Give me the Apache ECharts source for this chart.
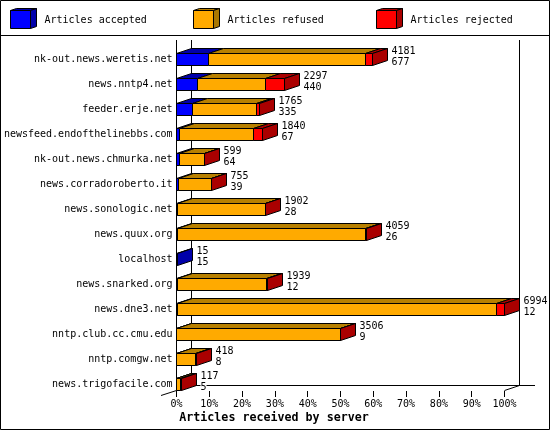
<!DOCTYPE html>
<html><head><meta charset="utf-8">
<style>html,body{margin:0;padding:0;background:#fff}#c{width:550px;height:430px}</style>
<script src="https://cdn.jsdelivr.net/npm/echarts@6/dist/echarts.min.js"></script>
</head><body><div id="c"></div>
<script>
const servers = ['nk-out.news.weretis.net','news.nntp4.net','feeder.erje.net','newsfeed.endofthelinebbs.com','nk-out.news.chmurka.net','news.corradoroberto.it','news.sonologic.net','news.quux.org','localhost','news.snarked.org','news.dne3.net','nntp.club.cc.cmu.edu','nntp.comgw.net','news.trigofacile.com'];
const totals   = [4181,2297,1765,1840,599,755,1902,4059,15,1939,6994,3506,418,117];
const accepted = [677,440,335,67,64,39,28,26,15,12,12,9,8,5];
const refused  = [3346,1452,1366,1568,530,700,1860,4010,0,1915,6805,3480,405,87];
const rejected = [158,405,64,205,5,16,14,23,0,12,177,17,5,25];
const legendNames = ['Articles accepted','Articles refused','Articles rejected'];
const axisTitle = 'Articles received by server';
const FACE = ['#0000ff','#ffaa00','#ff0000'];
const TOP  = ['#0000aa','#b88000','#aa0000'];
const SIDE = ['#0000aa','#aa7700','#aa0000'];
const INK = '#000';
const FONT = '10px "DejaVu Sans Mono", monospace';
const DX = 15, DY = -5, HALF = 6;
const maxTotal = Math.max(...totals);
const snap = v => Math.floor(v) + 0.5;
const pct = v => v / maxTotal * 100;

function renderRow(params, api) {
  const i = api.value(0);
  const yc = api.coord([0, i])[1];
  const yT = snap(yc - HALF), yB = yT + 2 * HALF;
  const parts = [accepted[i], refused[i], rejected[i]];
  const children = [];
  let sum = 0, xPrev = snap(api.coord([0, i])[0]), last = 0;
  const poly = (pts, fill) => children.push({type:'polygon', shape:{points:pts}, style:{fill, stroke:INK, lineWidth:1}});
  const fronts = [];
  parts.forEach((p, k) => {
    if (p <= 0) return;
    sum += p;
    const x = snap(api.coord([pct(sum), i])[0]);
    poly([[xPrev,yT],[xPrev+DX,yT+DY],[x+DX,yT+DY],[x,yT]], TOP[k]);
    fronts.push([[xPrev,yT],[x,yT],[x,yB],[xPrev,yB]], FACE[k]);
    xPrev = x; last = k;
  });
  poly([[xPrev,yT],[xPrev+DX,yT+DY],[xPrev+DX,yB+DY],[xPrev,yB]], SIDE[last]);
  for (let k = 0; k < fronts.length; k += 2) poly(fronts[k], fronts[k+1]);
  const xl = xPrev + DX + 4;
  children.push({type:'text', style:{x:xl, y:yc-8.5, text:String(totals[i]), font:FONT, fill:INK, verticalAlign:'middle'}});
  children.push({type:'text', style:{x:xl, y:yc+2.5, text:String(accepted[i]), font:FONT, fill:INK, verticalAlign:'middle', backgroundColor:'#fff'}});
  return {type:'group', children};
}

function box(x, k) {
  const t = 10.5, b = 28.5, w = 20;
  const s = {stroke:INK, lineWidth:1};
  return [
    {type:'polygon', z:5, shape:{points:[[x,t],[x+6,t-2],[x+w+6,t-2],[x+w,t]]}, style:{fill:TOP[k],...s}},
    {type:'polygon', z:5, shape:{points:[[x+w,t],[x+w+6,t-2],[x+w+6,b-2],[x+w,b]]}, style:{fill:SIDE[k],...s}},
    {type:'rect', z:5, shape:{x, y:t, width:w, height:b-t}, style:{fill:FACE[k],...s}}
  ];
}
const line = (x1,y1,x2,y2) => ({type:'line', z:0, shape:{x1,y1,x2,y2}, style:{stroke:INK, lineWidth:1}});
const legendX = [10.5, 193.5, 376.5];
const legendTextX = [44.5, 227.5, 410.5];

const chart = echarts.init(document.getElementById('c'), null, {renderer:'canvas', width:550, height:430});
chart.setOption({
  animation:false,
  backgroundColor:'#fff',
  grid:{left:176.5, width:328, top:47, height:350, containLabel:false},
  xAxis:{type:'value', min:0, max:100, interval:10, splitLine:{show:false},
    axisLine:{show:false},
    axisTick:{show:true, inside:true, length:6, lineStyle:{color:INK, width:1}},
    axisLabel:{show:true, formatter:'{value}%', color:INK, margin:2, fontFamily:'"DejaVu Sans Mono", monospace', fontSize:10, hideOverlap:false, showMinLabel:true, showMaxLabel:true}},
  yAxis:{type:'category', inverse:true, data:servers, axisLine:{show:false}, axisTick:{show:false}, splitLine:{show:false},
    axisLabel:{color:INK, margin:4, interval:0, padding:[2,0,0,0], fontFamily:'"DejaVu Sans Mono", monospace', fontSize:10}},
  series:[{type:'custom', clip:false, silent:true, z:3, renderItem:renderRow,
    encode:{x:1, y:0},
    data:servers.map((s,i)=>[i, pct(totals[i])])}],
  graphic:[
    {type:'rect', z:0, shape:{x:0.5,y:0.5,width:549,height:429}, style:{fill:'none',stroke:INK,lineWidth:1}},
    line(0,35.5,550,35.5),
    line(176.5,40,176.5,390.5),
    line(191.5,40,191.5,385.5),
    line(519.5,40,519.5,385.5),
    line(191.5,385.5,535,385.5),
    line(161,395.5,176.5,390.5),
    line(504.5,390.5,519.5,385.5),
    ...legendX.flatMap((x,k)=>box(x,k)),
    ...legendNames.map((t,k)=>({type:'text', z:5, style:{x:legendTextX[k], y:20.5, text:t, font:FONT, fill:INK, verticalAlign:'middle'}})),
    {type:'text', z:5, style:{x:274, y:417.5, text:axisTitle, font:'bold 11.67px "DejaVu Sans Mono", monospace', fill:INK, align:'center', verticalAlign:'middle'}}
  ]
});
</script></body></html>
